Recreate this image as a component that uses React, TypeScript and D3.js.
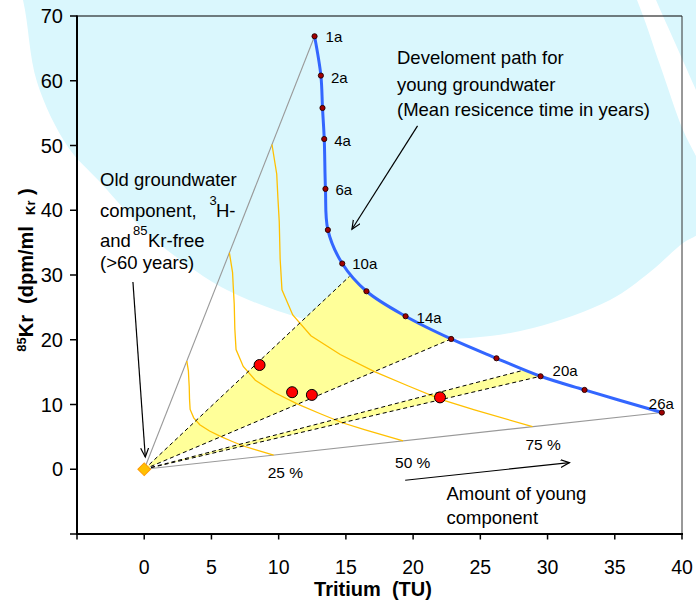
import React from 'react';
import * as d3 from 'd3';

// ---------- data ----------
const ages = [1, 2, 3, 4, 6, 8, 10, 12, 14, 16, 18, 20, 23, 26];
const tritium = [12.67, 13.14, 13.26, 13.39, 13.48, 13.66, 14.73, 16.53, 19.44, 22.83, 26.2, 29.48, 32.75, 38.5];
const krypton = [66.87, 60.8, 55.8, 51.0, 43.3, 36.96, 31.77, 27.49, 23.63, 20.12, 17.14, 14.36, 12.25, 8.76];
const labeledAges = [1, 2, 4, 6, 10, 14, 20, 26];

const sampleTritium = [8.58, 11.0, 12.47, 22.0];
const sampleKrypton = [16.1, 11.9, 11.48, 11.1];

const oldTritium = 0;
const oldKrypton = 0;

const mixFractions = [0.25, 0.5, 0.75];
const mixLabels = ['25 %', '50 %', '75 %'];

// shaded ranges: upper edge point on the curve, lower edge at a curve age
const bandUpperTritium = [15.27, 28.21];
const bandUpperKrypton = [29.8, 15.29];
const bandLowerAge = [16, 20];

const xTicks = [-5, 0, 5, 10, 15, 20, 25, 30, 35, 40];
const yTicks = [-10, 0, 10, 20, 30, 40, 50, 60, 70];

// ---------- layout ----------
const W = 696;
const H = 600;
const FONT = 'Liberation Sans, Arial, Helvetica, sans-serif';
const ageLabelOffset: Record<number, [number, number]> = {
  1: [11, 5.5], 2: [10, 7], 4: [10, 6.5], 6: [10, 6.5], 10: [10, 5.5], 14: [11, 6.5], 20: [12, 0], 26: [-13, -4],
};
const mixLabelOffset: [number, number][] = [[-6, 23], [-8, 27], [-7, 23]];

// decorative background shapes (page pixels)
const discPts: [number, number][] = [
  [5, -60], [23, 0], [37, 82], [68, 147], [100, 182], [147, 233], [190, 267], [227, 290],
  [300, 318], [400, 337], [470, 338], [533, 328], [610, 300], [650, 272], [683, 243],
  [700, 232], [710, 200], [700, 165], [683, 130], [660, 65], [637, 0], [600, -80], [400, -140], [150, -130],
];
const ringEdge: [number, number][] = [[648, -20], [656, 0], [676, 45], [696, 90], [712, 125]];

export default function App() {
  const x = d3.scaleLinear().domain([-5, 40]).range([77, 682]);
  const y = d3.scaleLinear().domain([-10, 70]).range([534, 16]);

  const curvePath = d3
    .line<number>()
    .x((_, i) => x(tritium[i]))
    .y((_, i) => y(krypton[i]))
    .curve(d3.curveCatmullRom.alpha(0.5))(ages) as string;

  const mixPaths = mixFractions.map(
    (f) =>
      d3
        .line<number>()
        .x((_, i) => x(f * tritium[i]))
        .y((_, i) => y(f * krypton[i]))(ages) as string
  );

  const ox = x(oldTritium);
  const oy = y(oldKrypton);

  const bands = bandUpperTritium.map((ut, b) => {
    const li = ages.indexOf(bandLowerAge[b]);
    const lt = tritium[li];
    const pts: [number, number][] = [[ox, oy], [x(ut), y(bandUpperKrypton[b])]];
    tritium.forEach((t, i) => {
      if (t > ut && t <= lt) pts.push([x(t), y(krypton[i])]);
    });
    return { pts, upper: [x(ut), y(bandUpperKrypton[b])], lower: [x(lt), y(krypton[li])] };
  });

  const discPath = d3.line().curve(d3.curveCatmullRomClosed)(discPts) as string;
  const ringPath = (d3.line().curve(d3.curveCatmullRom)(ringEdge) as string) + 'L730,125L730,-20Z';

  const arrows = [
    { from: [20.33, 53.02], to: [15.45, 37.07] },
    { from: [-0.84, 28.93], to: [0.08, 1.9] },
    { from: [19.41, -1.7], to: [31.63, 1.03] },
  ];

  const txt = { fontFamily: FONT, fill: '#000' } as const;
  const annSize = 18.5;

  return (
    <svg width={W} height={H} style={{ position: 'absolute', left: 0, top: 0, background: '#fff' }}>
      <defs>
        <marker id="ah" markerUnits="userSpaceOnUse" markerWidth="12" markerHeight="10" refX="9" refY="4" orient="auto">
          <path d="M0,0 L9,4 L0,8" fill="none" stroke="#000" strokeWidth="1.2" />
        </marker>
      </defs>

      {/* background decoration */}
      <path d={discPath} fill="#DAF7FD" />
      <path d={ringPath} fill="#DAF7FD" />

      {/* shaded ranges */}
      {bands.map((b, i) => (
        <polygon key={'band' + i} points={b.pts.map((p) => p.join(',')).join(' ')} fill="#FFFF99" />
      ))}

      {/* envelope lines */}
      <line x1={ox} y1={oy} x2={x(tritium[0])} y2={y(krypton[0])} stroke="#999" strokeWidth={1.1} />
      <line x1={ox} y1={oy} x2={x(tritium[tritium.length - 1])} y2={y(krypton[krypton.length - 1])} stroke="#999" strokeWidth={1.1} />

      {/* mixing lines */}
      {mixPaths.map((d, i) => (
        <path key={'mix' + i} d={d} fill="none" stroke="#FFC000" strokeWidth={1.3} />
      ))}

      {/* dashed band edges */}
      {bands.map((b, i) => (
        <g key={'dash' + i}>
          <line x1={ox} y1={oy} x2={b.upper[0]} y2={b.upper[1]} stroke="#000" strokeWidth={1} strokeDasharray="4,3" />
          <line x1={ox} y1={oy} x2={b.lower[0]} y2={b.lower[1]} stroke="#000" strokeWidth={1} strokeDasharray="4,3" />
        </g>
      ))}

      {/* young groundwater path */}
      <path d={curvePath} fill="none" stroke="#3366FF" strokeWidth={3} />
      {ages.map((a, i) => (
        <circle key={'age' + a} cx={x(tritium[i])} cy={y(krypton[i])} r={2.6} fill="#A00000" stroke="#220000" strokeWidth={0.9} />
      ))}
      {labeledAges.map((a) => {
        const i = ages.indexOf(a);
        const [dx, dy] = ageLabelOffset[a];
        return (
          <text key={'al' + a} x={x(tritium[i]) + dx} y={y(krypton[i]) + dy} fontSize={15} {...txt}>
            {a + 'a'}
          </text>
        );
      })}

      {/* mixing labels */}
      {mixFractions.map((f, i) => (
        <text
          key={'ml' + i}
          x={x(f * tritium[tritium.length - 1]) + mixLabelOffset[i][0]}
          y={y(f * krypton[krypton.length - 1]) + mixLabelOffset[i][1]}
          fontSize={15.5}
          {...txt}
        >
          {mixLabels[i]}
        </text>
      ))}

      {/* samples */}
      {sampleTritium.map((t, i) => (
        <circle key={'s' + i} cx={x(t)} cy={y(sampleKrypton[i])} r={5.5} fill="#FF0000" stroke="#000" strokeWidth={1} />
      ))}

      {/* old component */}
      <rect x={ox - 4.5} y={oy - 4.5} width={9} height={9} transform={`rotate(45 ${ox} ${oy})`} fill="#FFC000" stroke="#FF9900" strokeWidth={1} />

      {/* arrows */}
      {arrows.map((a, i) => (
        <line key={'ar' + i} x1={x(a.from[0])} y1={y(a.from[1])} x2={x(a.to[0])} y2={y(a.to[1])} stroke="#000" strokeWidth={1.2} markerEnd="url(#ah)" />
      ))}

      {/* annotations */}
      <text x={397} y={64} fontSize={annSize} {...txt}>Develoment path for</text>
      <text x={397} y={90.5} fontSize={annSize} {...txt}>young groundwater</text>
      <text x={397} y={116} fontSize={annSize} {...txt}>(Mean resicence time in years)</text>

      <text x={100} y={185.5} fontSize={annSize} {...txt}>Old groundwater</text>
      <text x={100} y={216.5} fontSize={annSize} {...txt}>component,</text>
      <text x={209.5} y={205} fontSize={13} {...txt}>3</text>
      <text x={216} y={216.5} fontSize={annSize} {...txt}>H-</text>
      <text x={100} y={246.5} fontSize={annSize} {...txt}>and</text>
      <text x={133} y={234.5} fontSize={13} {...txt}>85</text>
      <text x={148} y={246.5} fontSize={annSize} {...txt}>Kr-free</text>
      <text x={100} y={268.5} fontSize={annSize} {...txt}>(&gt;60 years)</text>

      <text x={446.5} y={499.5} fontSize={annSize} {...txt}>Amount of young</text>
      <text x={446.5} y={524} fontSize={annSize} {...txt}>component</text>

      {/* frame */}
      <line x1={77} y1={16} x2={682} y2={16} stroke="#000" strokeWidth={1.2} />
      <line x1={682} y1={16} x2={682} y2={534} stroke="#333" strokeWidth={1} />
      <line x1={77} y1={15.5} x2={77} y2={535} stroke="#000" strokeWidth={2} />
      <line x1={76} y1={534} x2={683} y2={534} stroke="#000" strokeWidth={2} />

      {/* axes ticks */}
      {xTicks.map((t) => (
        <g key={'xt' + t}>
          <line x1={x(t)} y1={534} x2={x(t)} y2={539.5} stroke="#000" strokeWidth={1.5} />
          {t >= 0 && (
            <text x={x(t)} y={573.5} fontSize={19.5} textAnchor="middle" {...txt}>
              {t}
            </text>
          )}
        </g>
      ))}
      {yTicks.map((t) => (
        <g key={'yt' + t}>
          <line x1={70} y1={y(t)} x2={77} y2={y(t)} stroke="#000" strokeWidth={1.5} />
          {t >= 0 && (
            <text x={63} y={y(t) + 7.2} fontSize={20} textAnchor="end" {...txt}>
              {t}
            </text>
          )}
        </g>
      ))}

      {/* axis titles */}
      <text x={373} y={596} fontSize={20} fontWeight="bold" textAnchor="middle" style={{ whiteSpace: 'pre' }} {...txt}>
        {'Tritium  (TU)'}
      </text>
      <text
        transform="translate(32.5,270) rotate(-90)"
        fontSize={20}
        fontWeight="bold"
        textAnchor="middle"
        style={{ whiteSpace: 'pre' }}
        {...txt}
      >
        <tspan fontSize={13} dy={-7}>85</tspan>
        <tspan dy={7}>{'Kr  (dpm/ml  '}</tspan>
        <tspan fontSize={13} dy={2}>Kr</tspan>
        <tspan dy={-2}>{' )'}</tspan>
      </text>
    </svg>
  );
}
